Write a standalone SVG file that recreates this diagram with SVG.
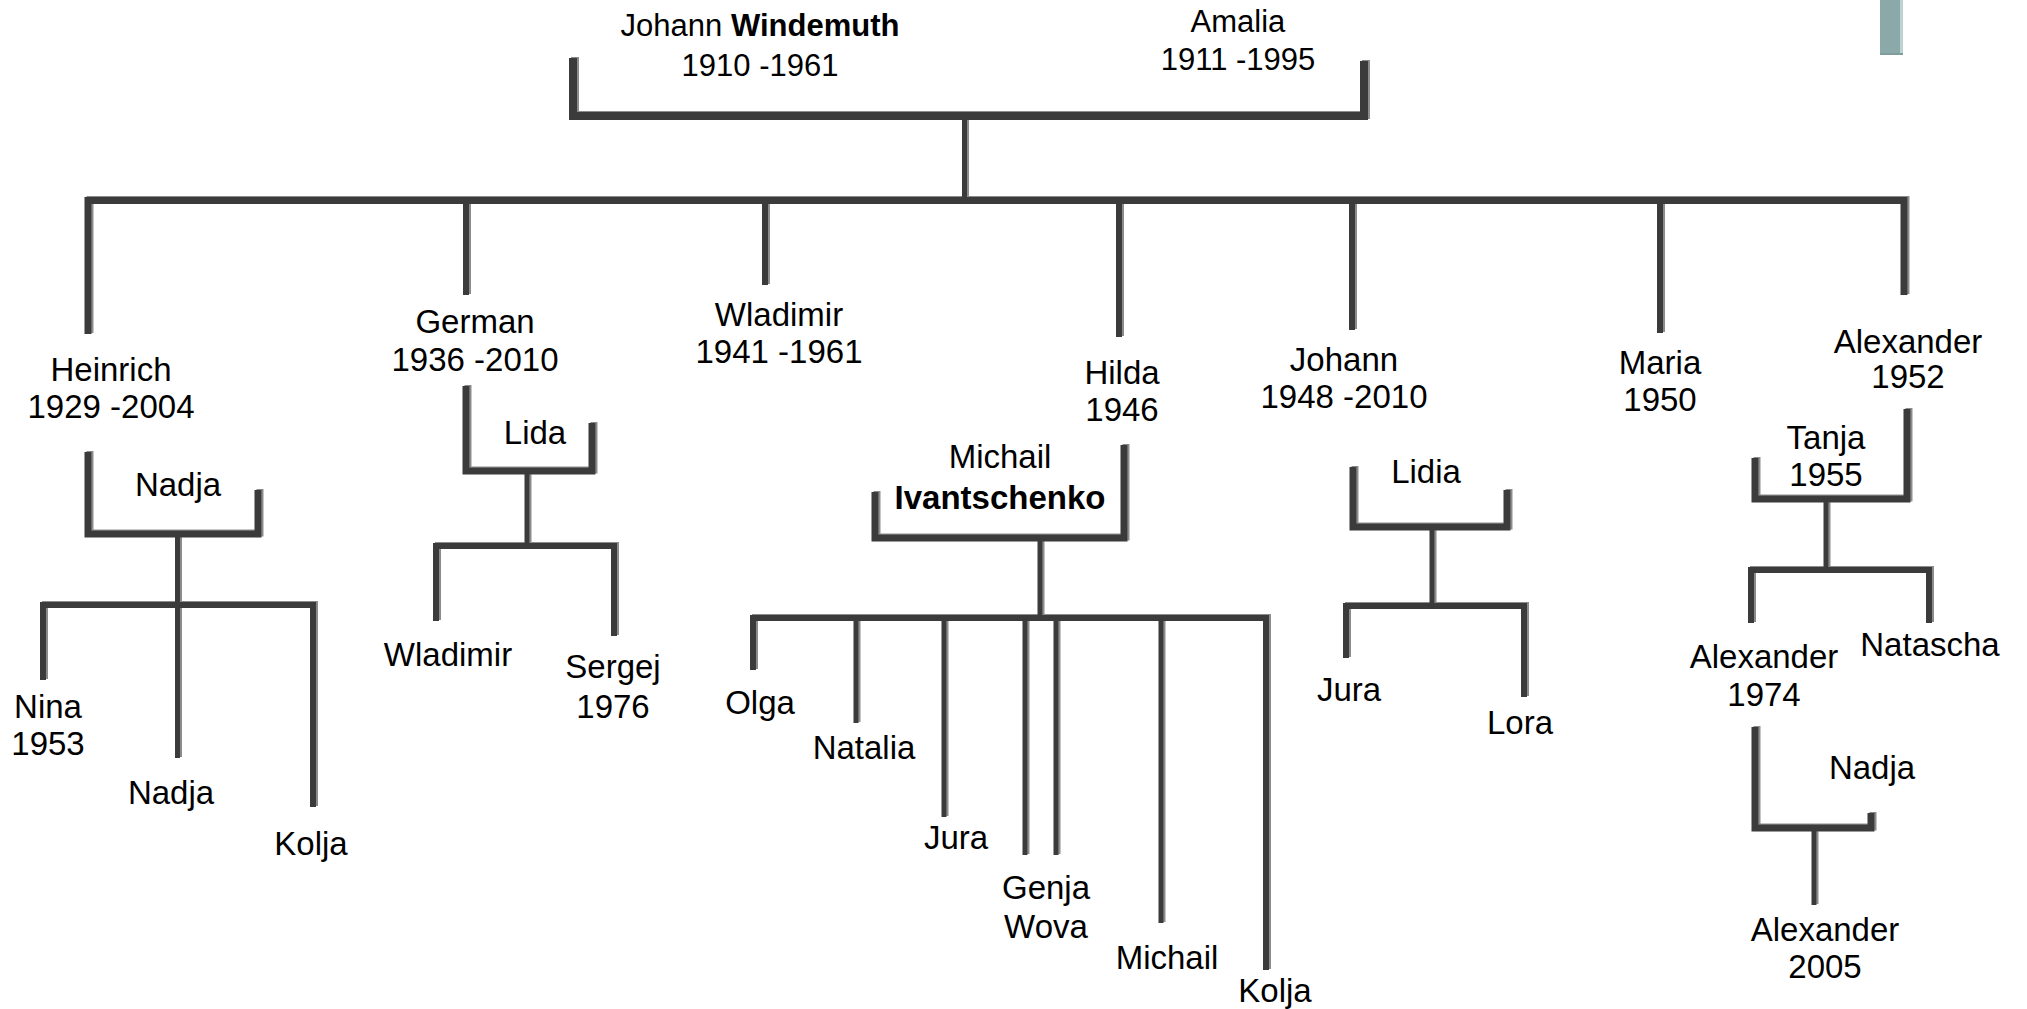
<svg xmlns="http://www.w3.org/2000/svg" width="2027" height="1009" viewBox="0 0 2027 1009">
<defs>
<style>
.t{font-family:"Liberation Sans",Arial,sans-serif;font-size:33px;text-anchor:middle;fill:#000}
.top{font-size:31px}
.b{font-weight:bold}
.ln{fill:none;stroke:#3b3b3b;stroke-linejoin:miter;stroke-linecap:butt}
.w8{stroke-width:8}
.w7{stroke-width:7}
.w6{stroke-width:6}
.w5{stroke-width:5}
</style>
<filter id="bevel" x="-5%" y="-5%" width="110%" height="110%">
<feOffset in="SourceAlpha" dx="2" dy="-1.5" result="o"/>
<feFlood flood-color="#8c8c8c"/>
<feComposite in2="o" operator="in" result="s"/>
<feMerge><feMergeNode in="s"/><feMergeNode in="SourceGraphic"/></feMerge>
</filter>
</defs>
<rect width="2027" height="1009" fill="#fff"/>

<g id="decoration">
<rect x="1880" y="0" width="23" height="55" fill="#8ba9a9"/>
<rect x="1900" y="0" width="3" height="55" fill="#bdd3d3"/>
<rect x="1880" y="53" width="23" height="2" fill="#7f9d9d"/>
</g>

<g id="connectors" filter="url(#bevel)">
<path class="ln w8" d="M573,58 V116 H1364 V61"/>
<path class="ln w5" d="M964.5,120 V198"/>
<path class="ln w7" d="M88,334 V200.5 H1904 V295"/>
<path class="ln w6" d="M466,204 V295 M765,204 V285 M1119,204 V337 M1352,204 V330 M1660,204 V333"/>

<path class="ln w7" d="M88,452 V534 H258 V490"/>
<path class="ln w5" d="M177.5,537 V604"/>
<path class="ln w6" d="M43,680 V605 H313 V807"/>
<path class="ln w5" d="M177.5,605 V758"/>

<path class="ln w7" d="M466,386 V471 H592 V423"/>
<path class="ln w5" d="M527,474 V546"/>
<path class="ln w6" d="M436,621 V546 H614 V636"/>

<path class="ln w7" d="M875,492 V538 H1124 V445"/>
<path class="ln w5" d="M1040,541 V618"/>
<path class="ln w6" d="M753,670 V618 H1266 V970"/>
<path class="ln w5" d="M856,618 V723 M944,618 V817 M1025,618 V855 M1056,618 V855 M1161,618 V923"/>

<path class="ln w7" d="M1353,467 V527 H1507 V490"/>
<path class="ln w5" d="M1432,530 V606"/>
<path class="ln w6" d="M1346,658 V606 H1524 V697"/>

<path class="ln w7" d="M1755,458 V499 H1907 V409"/>
<path class="ln w5" d="M1826,502 V570"/>
<path class="ln w6" d="M1751,623 V570 H1929 V623"/>

<path class="ln w7" d="M1755,727 V828 H1871 V813"/>
<path class="ln w5" d="M1814,831 V905"/>
</g>

<g id="johann-windemuth"><text class="t top" x="760" y="36">Johann <tspan class="b">Windemuth</tspan></text><text class="t top" x="760" y="76">1910 -1961</text></g>
<g id="amalia"><text class="t top" x="1238" y="32">Amalia</text><text class="t top" x="1238" y="70">1911 -1995</text></g>

<g id="heinrich"><text class="t" x="111" y="381">Heinrich</text><text class="t" x="111" y="418">1929 -2004</text></g>
<g id="nadja-heinrich"><text class="t" x="178" y="496">Nadja</text></g>
<g id="nina"><text class="t" x="48" y="718">Nina</text><text class="t" x="48" y="755">1953</text></g>
<g id="nadja-child"><text class="t" x="171" y="804">Nadja</text></g>
<g id="kolja-heinrich"><text class="t" x="311" y="855">Kolja</text></g>

<g id="german"><text class="t" x="475" y="333">German</text><text class="t" x="475" y="371">1936 -2010</text></g>
<g id="lida"><text class="t" x="535" y="444">Lida</text></g>
<g id="wladimir-german"><text class="t" x="448" y="666">Wladimir</text></g>
<g id="sergej"><text class="t" x="613" y="678">Sergej</text><text class="t" x="613" y="718">1976</text></g>

<g id="wladimir"><text class="t" x="779" y="326">Wladimir</text><text class="t" x="779" y="363">1941 -1961</text></g>

<g id="hilda"><text class="t" x="1122" y="384">Hilda</text><text class="t" x="1122" y="421">1946</text></g>
<g id="michail-ivantschenko"><text class="t" x="1000" y="468">Michail</text><text class="t b" x="1000" y="509">Ivantschenko</text></g>
<g id="olga"><text class="t" x="760" y="714">Olga</text></g>
<g id="natalia"><text class="t" x="864" y="759">Natalia</text></g>
<g id="jura-hilda"><text class="t" x="956" y="849">Jura</text></g>
<g id="genja-wova"><text class="t" x="1046" y="899">Genja</text><text class="t" x="1046" y="938">Wova</text></g>
<g id="michail-child"><text class="t" x="1167" y="969">Michail</text></g>
<g id="kolja-hilda"><text class="t" x="1275" y="1002">Kolja</text></g>

<g id="johann"><text class="t" x="1344" y="371">Johann</text><text class="t" x="1344" y="408">1948 -2010</text></g>
<g id="lidia"><text class="t" x="1426" y="483">Lidia</text></g>
<g id="jura-johann"><text class="t" x="1349" y="701">Jura</text></g>
<g id="lora"><text class="t" x="1520" y="734">Lora</text></g>

<g id="maria"><text class="t" x="1660" y="374">Maria</text><text class="t" x="1660" y="411">1950</text></g>

<g id="alexander"><text class="t" x="1908" y="353">Alexander</text><text class="t" x="1908" y="388">1952</text></g>
<g id="tanja"><text class="t" x="1826" y="449">Tanja</text><text class="t" x="1826" y="486">1955</text></g>
<g id="alexander-1974"><text class="t" x="1764" y="668">Alexander</text><text class="t" x="1764" y="706">1974</text></g>
<g id="natascha"><text class="t" x="1930" y="656">Natascha</text></g>
<g id="nadja-alexander"><text class="t" x="1872" y="779">Nadja</text></g>
<g id="alexander-2005"><text class="t" x="1825" y="941">Alexander</text><text class="t" x="1825" y="978">2005</text></g>
</svg>
